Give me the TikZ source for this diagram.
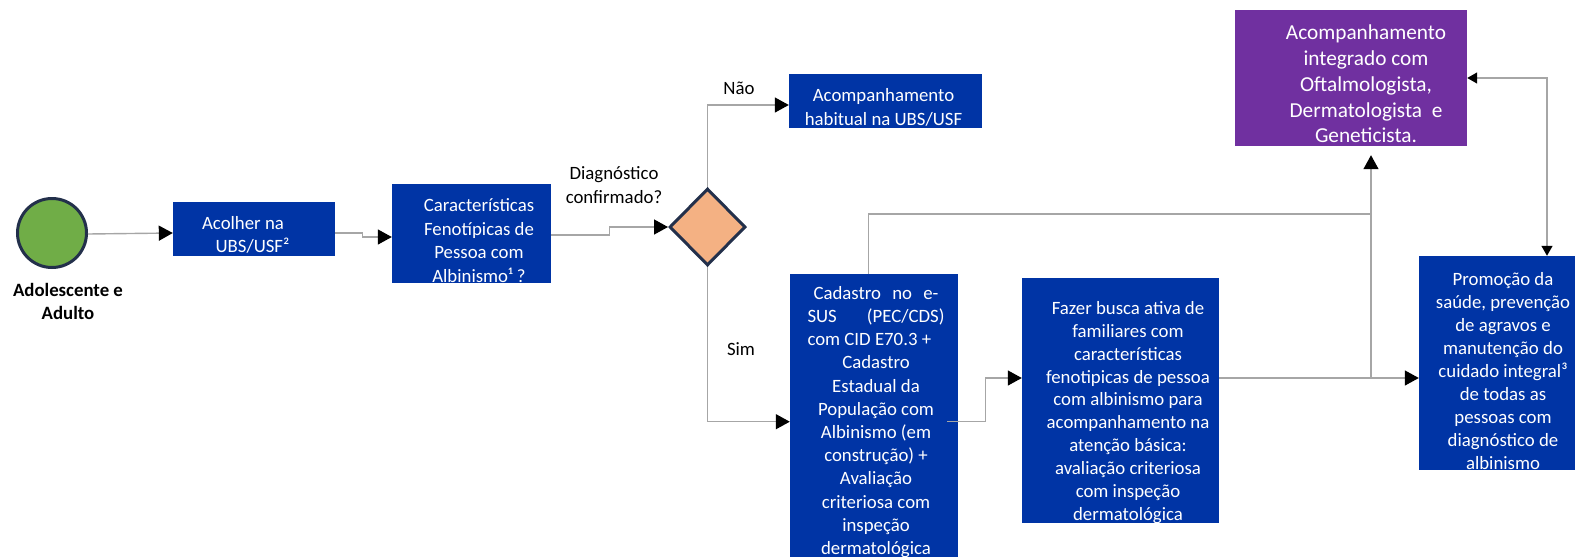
\documentclass[tikz,border=0pt]{standalone}
\usepackage{fontspec}
\setmainfont{Carlito}
\usetikzlibrary{shapes.geometric,arrows.meta,calc}
\definecolor{boxblue}{RGB}{0,52,165}
\definecolor{boxpurple}{RGB}{112,48,160}
\definecolor{startgreen}{RGB}{112,173,71}
\definecolor{decorange}{RGB}{244,177,131}
\definecolor{edgenavy}{RGB}{35,48,75}
\definecolor{linegray}{RGB}{166,166,166}
\tikzset{blk/.tip={Triangle[length=14pt,width=15pt,color=black]},
         sblk/.tip={Triangle[length=10pt,width=11pt,color=black]}}
% width, height, top space (2x downward shift), leftskip (2x right shift), font size, baselineskip, content
\newcommand{\boxtxt}[7]{\parbox[c][#2][c]{#1}{\fontsize{#5}{#6}\selectfont\centering\leftskip=#4 plus 1fil\relax\vspace*{#3}#7\par}}
\begin{document}
\begin{tikzpicture}[x=1pt,y=-1pt,
  every node/.style={font=\fontsize{18.8}{23.5}\selectfont},
  bluebox/.style={rectangle, fill=boxblue, text=white, inner sep=0pt},
  conn/.style={draw=linegray, line width=1.4pt, -blk},
  plainconn/.style={draw=linegray, line width=1.4pt},
  lbl/.style={text=black, align=center}]
\useasboundingbox (0,0) rectangle (1575,557);

\node[circle, fill=startgreen, draw=edgenavy, line width=3pt, minimum size=69pt, inner sep=0pt] (start) at (52,233) {};
\node[lbl, font=\bfseries\fontsize{18.8}{23.5}\selectfont] (startlbl) at (68,301.5) {Adolescente e\\Adulto};

\node[bluebox, minimum width=162pt, minimum height=54pt] (acolher) at (254,229)
  {\boxtxt{162pt}{54pt}{12pt}{-3pt}{18.8}{23.5}{Acolher na\rule{19pt}{0pt}\\UBS/USF²}};
\node[bluebox, minimum width=159pt, minimum height=99pt] (caract) at (471.5,233.5)
  {\boxtxt{159pt}{99pt}{14pt}{15pt}{18.8}{23.5}{Características\\Fenotípicas de\\Pessoa com\\Albinismo¹ ?}};
\node[diamond, fill=decorange, draw=edgenavy, line width=3pt, minimum width=76pt, minimum height=77pt, inner sep=0pt] (diag) at (707.5,227) {};
\node[bluebox, minimum width=193pt, minimum height=54pt] (habit) at (885.5,101)
  {\boxtxt{193pt}{54pt}{13pt}{-4pt}{18.8}{23.5}{Acompanhamento\\habitual na UBS/USF}};
\node[bluebox, minimum width=168pt, minimum height=286pt] (cad) at (874,417)
  {\boxtxt{168pt}{286pt}{10pt}{4pt}{18.8}{23.2}{\makebox[125pt][s]{Cadastro no e-}\\\makebox[137pt][s]{SUS (PEC/CDS)}\\\makebox[137pt][l]{com CID E70.3 +}\\Cadastro\\Estadual da\\População com\\Albinismo (em\\construção) +\\Avaliação\\criteriosa com\\inspeção\\dermatológica}};
\node[bluebox, minimum width=197pt, minimum height=245pt] (fazer) at (1120.5,400.5)
  {\boxtxt{197pt}{245pt}{24pt}{15pt}{18.8}{22.9}{Fazer busca ativa de\\familiares com\\características\\fenotipicas de pessoa\\com albinismo para\\acompanhamento na\\atenção básica:\\avaliação criteriosa\\com inspeção\\dermatológica}};
\node[bluebox, fill=boxpurple, minimum width=232pt, minimum height=136pt] (integ) at (1351,78)
  {\boxtxt{232pt}{136pt}{12pt}{30pt}{21.3}{25.8}{Acompanhamento\\integrado com\\Oftalmologista,\\Dermatologista\ \ e\\Geneticista.}};
\node[bluebox, minimum width=158pt, minimum height=214pt] (prom) at (1498,363)
  {\boxtxt{158pt}{214pt}{16pt}{10pt}{18.8}{23}{Promoção da\\saúde, prevenção\\de agravos e\\manutenção do\\cuidado integral³\\de todas as\\pessoas com\\diagnóstico de\\albinismo}};

\node[lbl] (qlbl) at (614,185) {Diagnóstico\\confirmado?};
\node[lbl] (naolbl) at (739,88) {Não};
\node[lbl] (simlbl) at (741,349) {Sim};

\coordinate (jup) at (1371,378);
\coordinate (jtop) at (1371,214);

\draw[conn] ($(start.east)+(0,1)$) -- (start.east -| acolher.west);
\draw[conn] ($(acolher.east)+(0,4)$) -- ++(27,0) |- ($(caract.west)+(0,3.5)$);
\draw[conn] ($(caract.east)+(0,1.5)$) -- ++(58,0) |- (diag.west);
\draw[conn] (diag.north) |- ($(habit.west)+(0,4)$);
\draw[conn] (diag.south) |- ($(cad.west)+(0,4.7)$);
\draw[conn] ($(cad.east)+(-11,4.7)$) -- ++(38,0) |- ($(fazer.west)+(0,-22.5)$);
\draw[conn] ($(fazer.east)+(0,-22.5)$) -- (prom.west |- jup);
\draw[conn, shorten >=9pt] (jup) -- (jup |- integ.south);
\draw[plainconn] ($(cad.north)+(-5.4,0)$) |- (jtop);
\draw[plainconn, sblk-sblk] (integ.east) -| ($(prom.north)+(49,0)$);
\end{tikzpicture}
\end{document}
